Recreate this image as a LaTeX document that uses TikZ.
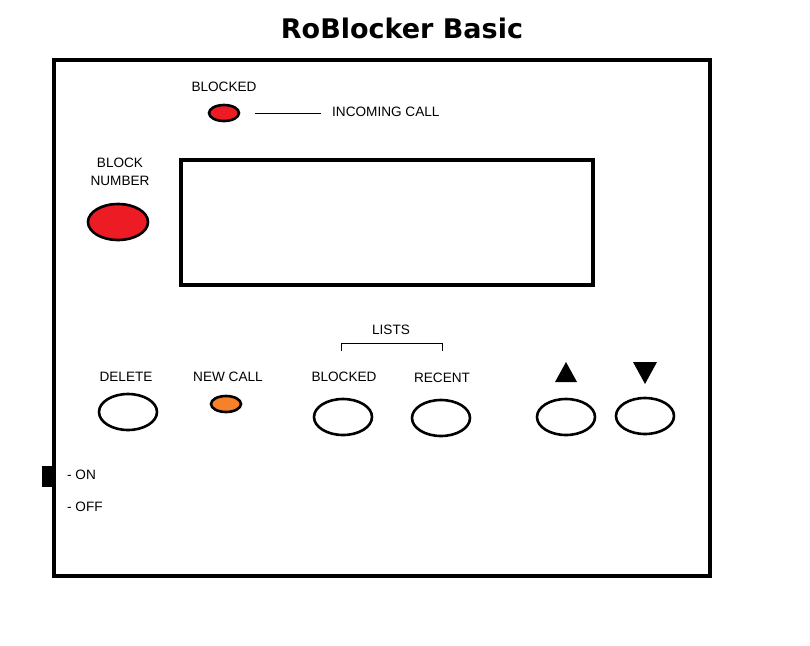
\documentclass[tikz,border=0pt]{standalone}
\usepackage{fontspec}
\usetikzlibrary{shapes.geometric}
\setmainfont{Liberation Sans}
\newfontfamily\titlefont{DejaVu Sans}
\definecolor{paintred}{HTML}{ED1C24}
\definecolor{paintorange}{HTML}{F7812B}
\begin{document}
\begin{tikzpicture}[x=1pt,y=-1pt,
  lbl/.style={font=\fontsize{13.6}{16}\selectfont, inner sep=0pt, text=black},
  btn/.style={draw=black, line width=2.6pt, ellipse, minimum width=58pt, minimum height=36pt, inner sep=0pt},
  led/.style={draw=black, line width=2.6pt, ellipse, minimum width=30pt, minimum height=16pt, inner sep=0pt},
  frame/.style={draw=black, line width=4pt}]
\useasboundingbox (0,0) rectangle (810,645);
\node[font=\titlefont\fontsize{27}{30}\selectfont\bfseries, inner sep=0pt] (title) at (402,28) {RoBlocker Basic};
\draw[frame] (54,60) rectangle (710,576);
\node[fill=black, minimum width=12pt, minimum height=21pt, inner sep=0pt, anchor=north east] (switch) at (54,466) {};
\node[lbl, anchor=west] (on) at (67,475) {- ON};
\node[lbl, anchor=west] (off) at (67,507) {- OFF};
% blocked indicator
\node[lbl] (blockedlbl) at (224,87) {BLOCKED};
\node[led, fill=paintred] (blockedled) at (224,113) {};
\coordinate (lineA) at (255,113);
\coordinate (lineB) at (321,113);
\draw[line width=0.8pt] (lineA) -- (lineB);
\node[lbl, anchor=west] (incoming) at (332,112) {INCOMING CALL};
% block number
\node[lbl, align=center, font=\fontsize{13.6}{18}\selectfont] (blocknum) at (120,172) {BLOCK\\NUMBER};
\node[btn, fill=paintred, minimum width=60pt, minimum height=36pt] (blockbtn) at (118,222) {};
% screen
\draw[frame] (181,160) rectangle (593,285);
% lists
\node[lbl] (lists) at (391,330) {LISTS};
\coordinate (b1) at (341,351);
\coordinate (b2) at (341,343);
\coordinate (b3) at (442,343);
\coordinate (b4) at (442,351);
\draw[line width=0.8pt] (b1) -- (b2) -- (b3) -- (b4);
% labels
\node[lbl] (deletelbl) at (126,377) {DELETE};
\node[lbl] (newcalllbl) at (228,377) {NEW CALL};
\node[lbl] (blkbtnlbl) at (344,377) {BLOCKED};
\node[lbl] (recentlbl) at (442,378) {RECENT};
% buttons
\node[btn] (deletebtn) at (128,412) {};
\node[led, fill=paintorange] (newcallled) at (226,404) {};
\node[btn] (blockedbtn) at (343,417) {};
\node[btn] (recentbtn) at (441,418) {};
\node[btn] (upbtn) at (566,417) {};
\node[btn] (downbtn) at (645,416) {};
% arrows
\fill (555,382) -- (566,362) -- (577,382) -- cycle;
\fill (633,362) -- (657,362) -- (645,384) -- cycle;
\end{tikzpicture}
\end{document}
